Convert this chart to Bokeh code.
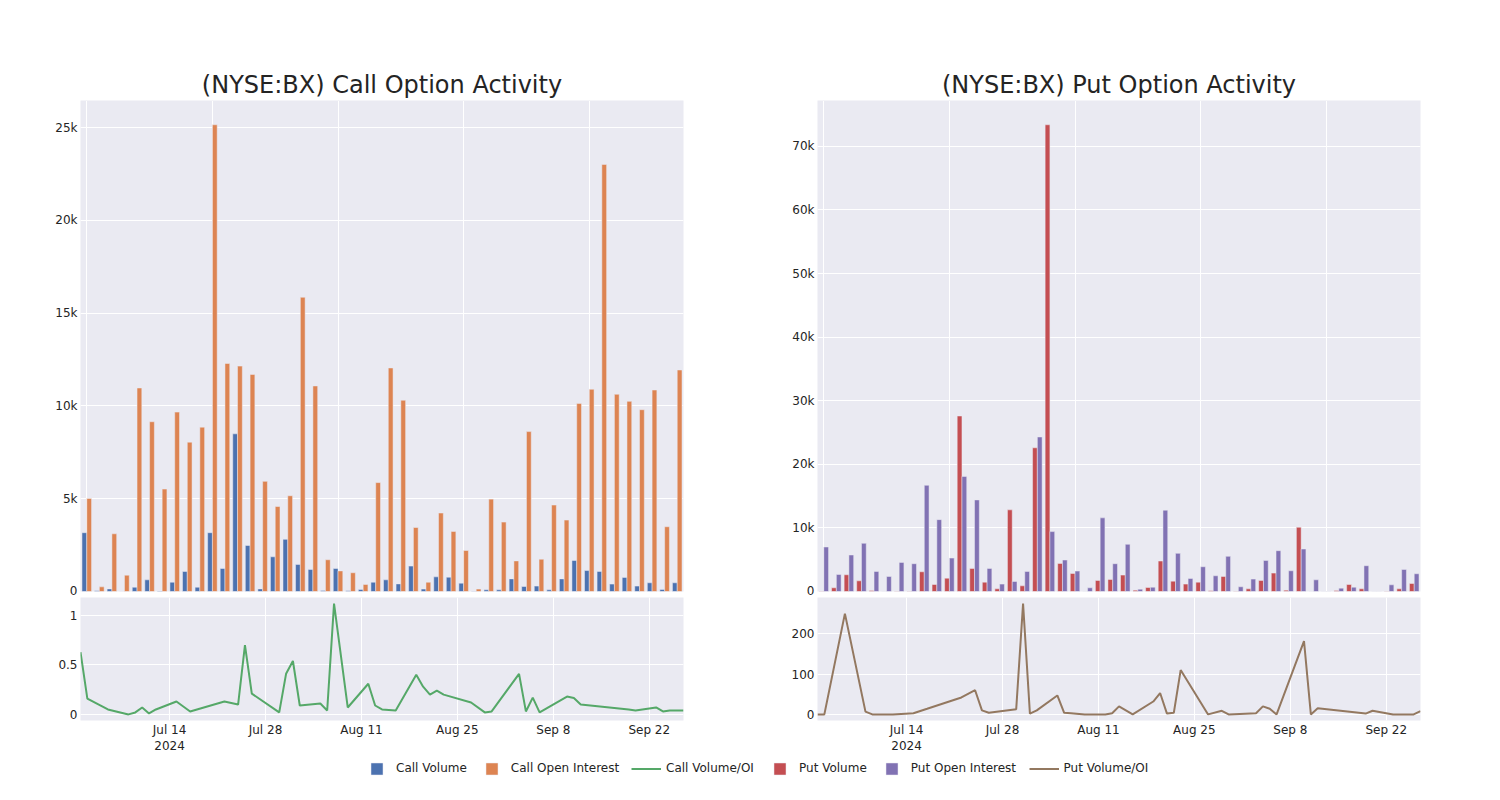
import pandas as pd
from bokeh.plotting import figure
from bokeh.models import (ColumnDataSource, Range1d, FixedTicker, NumeralTickFormatter,
                          Legend, LegendItem, Grid)
from bokeh.layouts import column, row
from bokeh.embed import file_html
from bokeh.resources import INLINE
from bokeh.transform import dodge

# ---------------- data ----------------
dates = ["2024-07-01", "2024-07-02", "2024-07-05", "2024-07-08", "2024-07-09", "2024-07-10",
         "2024-07-11", "2024-07-12", "2024-07-15", "2024-07-17", "2024-07-22", "2024-07-24",
         "2024-07-25", "2024-07-26", "2024-07-30", "2024-07-31", "2024-08-01", "2024-08-02",
         "2024-08-05", "2024-08-06", "2024-08-07", "2024-08-09", "2024-08-12", "2024-08-13",
         "2024-08-14", "2024-08-16", "2024-08-19", "2024-08-20", "2024-08-21", "2024-08-22",
         "2024-08-23", "2024-08-27", "2024-08-29", "2024-08-30", "2024-09-03", "2024-09-04",
         "2024-09-05", "2024-09-06", "2024-09-10", "2024-09-11", "2024-09-12", "2024-09-19",
         "2024-09-20", "2024-09-23", "2024-09-24", "2024-09-25", "2024-09-26", "2024-09-27"]

call_volume = [3170, 40, 140, 0, 230, 630, 30, 500, 1080, 230, 3170, 1240, 8500, 2480, 140, 1870,
               2810, 1460, 1190, 50, 1240, 40, 110, 500, 630, 410, 1370, 130, 790, 770, 450, 20,
               90, 90, 680, 270, 290, 90, 680, 1670, 1130, 1080, 400, 760, 290, 470, 110, 470]
call_open_interest = [5020, 250, 3110, 880, 10970, 9150, 5520, 9670, 8050, 8860, 25160, 12290,
                      12150, 11700, 5940, 4580, 5160, 15860, 11080, 1710, 1110, 1010, 380, 5870,
                      12050, 10310, 3450, 500, 4230, 3240, 2210, 130, 4980, 3740, 1650, 8620,
                      1740, 4660, 3850, 10140, 10900, 23020, 10630, 10250, 9800, 10860, 3490, 11940]
call_vol_oi = [0.63, 0.16, 0.05, 0.0, 0.02, 0.07, 0.01, 0.05, 0.13, 0.03, 0.13, 0.10, 0.70, 0.21,
               0.02, 0.41, 0.54, 0.09, 0.11, 0.04, 1.12, 0.07, 0.31, 0.09, 0.05, 0.04, 0.40, 0.28,
               0.20, 0.24, 0.20, 0.12, 0.02, 0.03, 0.41, 0.03, 0.17, 0.02, 0.18, 0.165, 0.10, 0.05,
               0.04, 0.07, 0.03, 0.04, 0.04, 0.04]

put_volume = [50, 580, 2630, 1680, 160, 0, 50, 50, 3100, 1100, 2100, 27600, 3630, 1470, 420, 12840,
              890, 22600, 73400, 4420, 2840, 0, 1740, 1900, 2580, 210, 630, 4790, 1630, 1160, 1470,
              100, 2370, 50, 420, 1740, 2890, 210, 10100, 0, 0, 160, 1100, 420, 0, 50, 420, 1260]
put_open_interest = [7000, 2680, 5740, 7580, 3160, 2370, 4580, 4370, 16700, 11300, 5260, 18100,
                     14400, 3630, 1160, 1580, 3160, 24300, 9420, 4950, 3210, 580, 11580, 4370,
                     7420, 370, 680, 12790, 6000, 2050, 3890, 2470, 5530, 740, 1950, 4890, 6420,
                     3260, 6680, 1840, 0, 530, 680, 4050, 0, 1050, 3470, 2790]
put_vol_oi = [0, 0, 250, 7, 0, 0, 0, 0, 3, 14, 42, 60, 10, 4, 13, 275, 2, 10, 47, 4, 3, 0, 0, 3,
              20, 0, 32, 53, 2, 4, 110, 0, 9, 0, 3, 20, 14, 0, 182, 0, 15, 2, 9, 0, 0, 0, 0, 8]

call_bar_ticks = [0, 5000, 10000, 15000, 20000, 25000]
put_bar_ticks = [0, 10000, 20000, 30000, 40000, 50000, 60000, 70000]
call_ratio_ticks = [0, 0.5, 1]
put_ratio_ticks = [0, 100, 200]
date_ticks = ["2024-07-14", "2024-07-28", "2024-08-11", "2024-08-25", "2024-09-08", "2024-09-22"]
date_tick_labels = ["Jul 14\n2024", "Jul 28", "Aug 11", "Aug 25", "Sep 8", "Sep 22"]

# ---------------- style ----------------
FONT = "DejaVu Sans"
TXT = "#242424"
BG = "#EAEAF2"
C_CALL_VOL = "#4C72B0"
C_CALL_OI = "#DD8452"
C_CALL_R = "#55A868"
C_PUT_VOL = "#C44E52"
C_PUT_OI = "#8172B3"
C_PUT_R = "#937860"

FRAME_W = 603
CALL_LEFT = 80
PUT_LEFT = 72
RIGHT = 62


def style_axes(p):
    p.background_fill_color = BG
    p.border_fill_color = "white"
    p.outline_line_color = None
    for ax in p.axis:
        ax.axis_line_color = None
        ax.major_tick_line_color = None
        ax.minor_tick_line_color = None
        ax.major_tick_out = 0
        ax.major_tick_in = 0
        ax.minor_tick_out = 0
        ax.minor_tick_in = 0
        ax.major_label_text_font = FONT
        ax.major_label_text_font_size = "12px"
        ax.major_label_text_color = TXT
        ax.major_label_standoff = 3


def bar_fig(title, vol, oi, c1, c2, yticks, left):
    n = len(dates)
    src = ColumnDataSource(dict(i=list(range(n)), vol=vol, oi=oi))
    ymax = max(max(vol), max(oi)) * 1.052
    p = figure(frame_width=FRAME_W, frame_height=491,
               x_range=Range1d(-0.5, n - 0.5), y_range=Range1d(0, ymax),
               output_backend="svg", toolbar_location=None,
               min_border_left=left, min_border_right=RIGHT,
               min_border_top=100, min_border_bottom=6,
               x_axis_location=None, title=title)
    p.title.text_font = FONT
    p.title.text_font_size = "24px"
    p.title.text_font_style = "normal"
    p.title.text_color = TXT
    p.title.align = "center"
    p.title.standoff = 3
    p.vbar(x=dodge("i", -0.19), top="vol", width=0.38, source=src,
           fill_color=c1, line_color=BG, line_width=0.5)
    p.vbar(x=dodge("i", 0.19), top="oi", width=0.38, source=src,
           fill_color=c2, line_color=BG, line_width=0.5)
    p.add_layout(Grid(dimension=0, ticker=FixedTicker(ticks=list(range(0, n, 10))),
                      grid_line_color="white", grid_line_width=1))
    p.yaxis.ticker = FixedTicker(ticks=yticks)
    p.ygrid.ticker = FixedTicker(ticks=yticks)
    p.ygrid.grid_line_color = "white"
    p.ygrid.grid_line_width = 1
    p.yaxis.formatter = NumeralTickFormatter(format="0a")
    style_axes(p)
    return p


def line_fig(vals, color, yticks, fmt, left):
    d = pd.to_datetime(dates)
    src = ColumnDataSource(dict(d=d, r=vals))
    lo, hi = min(vals), max(vals)
    pad = (hi - lo) * 0.055
    p = figure(frame_width=FRAME_W, frame_height=123, x_axis_type="datetime",
               x_range=Range1d(d.min(), d.max()), y_range=Range1d(lo - pad, hi + pad),
               output_backend="svg", toolbar_location=None,
               min_border_left=left, min_border_right=RIGHT,
               min_border_top=0, min_border_bottom=40)
    p.line("d", "r", source=src, line_color=color, line_width=2)
    tick_ms = [float(t) for t in (pd.to_datetime(date_ticks).astype("int64") // 10**6)]
    p.xaxis.ticker = FixedTicker(ticks=tick_ms)
    p.xgrid.ticker = FixedTicker(ticks=tick_ms)
    p.xaxis.major_label_overrides = {t: lab for t, lab in zip(tick_ms, date_tick_labels)}
    p.yaxis.ticker = FixedTicker(ticks=yticks)
    p.ygrid.ticker = FixedTicker(ticks=yticks)
    p.yaxis.formatter = NumeralTickFormatter(format=fmt)
    p.grid.grid_line_color = "white"
    p.grid.grid_line_width = 1
    style_axes(p)
    p.xaxis.major_label_standoff = 2
    return p


call_top = bar_fig("(NYSE:BX) Call Option Activity", call_volume, call_open_interest,
                   C_CALL_VOL, C_CALL_OI, call_bar_ticks, CALL_LEFT)
call_bot = line_fig(call_vol_oi, C_CALL_R, call_ratio_ticks, "0.[0]", CALL_LEFT)
put_top = bar_fig("(NYSE:BX) Put Option Activity", put_volume, put_open_interest,
                  C_PUT_VOL, C_PUT_OI, put_bar_ticks, PUT_LEFT)
put_bot = line_fig(put_vol_oi, C_PUT_R, put_ratio_ticks, "0", PUT_LEFT)

# ---------------- legend ----------------
TOTAL_W = (CALL_LEFT + FRAME_W + RIGHT) + (PUT_LEFT + FRAME_W + RIGHT)
leg = figure(width=TOTAL_W, height=30, x_range=Range1d(0, 1), y_range=Range1d(0, 1),
             output_backend="svg", toolbar_location=None, min_border=0,
             x_axis_location=None, y_axis_location=None)
leg.outline_line_color = None
leg.background_fill_color = "white"
leg.border_fill_color = "white"
for g in leg.grid:
    g.visible = False
nan = float("nan")
proxy = ColumnDataSource(dict(x=[nan], top=[nan], y=[nan]))
r_cv = leg.vbar(x="x", top="top", width=0.1, source=proxy, fill_color=C_CALL_VOL, line_color=BG, line_width=0.5)
r_co = leg.vbar(x="x", top="top", width=0.1, source=proxy, fill_color=C_CALL_OI, line_color=BG, line_width=0.5)
r_cr = leg.line(x="x", y="y", source=proxy, line_color=C_CALL_R, line_width=2)
r_pv = leg.vbar(x="x", top="top", width=0.1, source=proxy, fill_color=C_PUT_VOL, line_color=BG, line_width=0.5)
r_po = leg.vbar(x="x", top="top", width=0.1, source=proxy, fill_color=C_PUT_OI, line_color=BG, line_width=0.5)
r_pr = leg.line(x="x", y="y", source=proxy, line_color=C_PUT_R, line_width=2)

LEG_Y = 14.5


def add_leg(items, gw, standoff, x):
    lg = Legend(items=[LegendItem(label=l, renderers=[r]) for l, r in items],
                orientation="horizontal", location=(x, LEG_Y),
                glyph_width=gw, glyph_height=15, label_height=15,
                label_standoff=standoff, spacing=17, padding=0, margin=0,
                border_line_color=None, background_fill_alpha=0,
                label_text_font=FONT, label_text_font_size="12px",
                label_text_color=TXT)
    leg.add_layout(lg)


add_leg([("Call Volume", r_cv), ("Call Open Interest", r_co)], 15, 12, 369)
add_leg([("Call Volume/OI", r_cr)], 30, 5, 631)
add_leg([("Put Volume", r_pv), ("Put Open Interest", r_po)], 15, 12, 772)
add_leg([("Put Volume/OI", r_pr)], 30, 5, 1028.5)

layout = column(row(column(call_top, call_bot), column(put_top, put_bot)), leg)

open("out.html", "w").write(file_html(layout, INLINE))
